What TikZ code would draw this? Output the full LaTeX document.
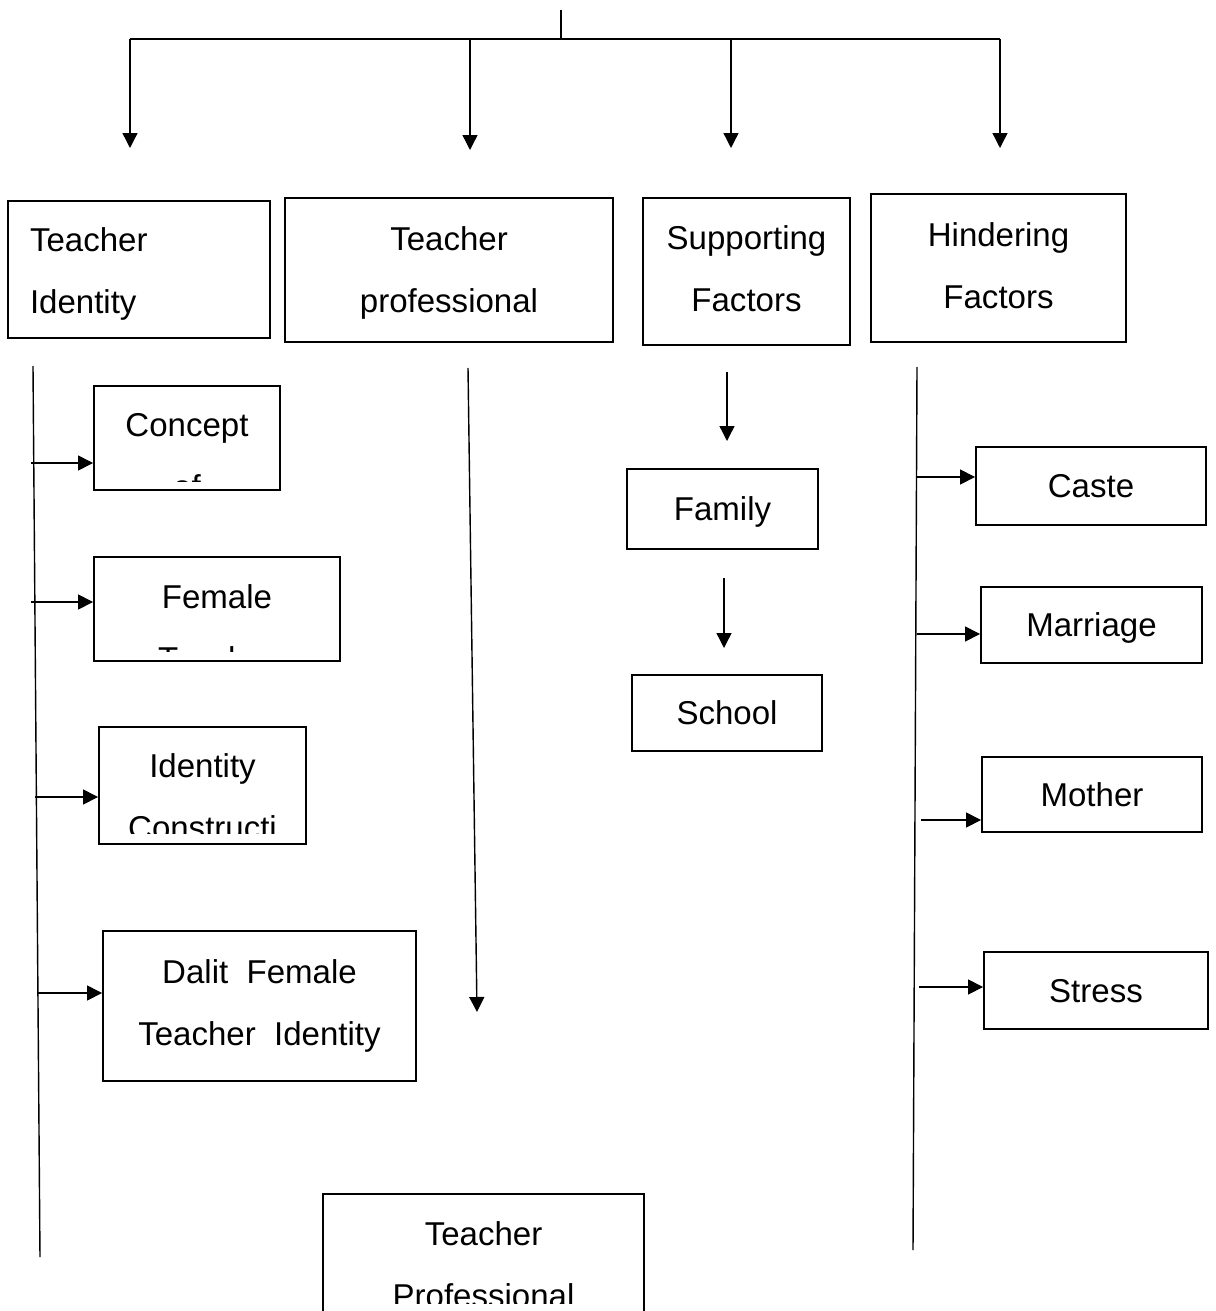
\documentclass[tikz,border=0pt]{standalone}
\usepackage{fontspec}
\setmainfont{Liberation Sans}
\usetikzlibrary{arrows.meta}

\begin{document}
\begin{tikzpicture}[x=0.02cm, y=-0.02cm,
  box/.style={rectangle, draw, line width=1.1pt, inner sep=0pt, align=center, font=\fontsize{18.8}{35.3}\selectfont},
  sbox/.style={box, text depth=0pt},
  lbl/.style={inner sep=0pt, align=center, font=\fontsize{18.8}{35.3}\selectfont},
  arr/.style={-{Triangle[length=0.3cm, width=0.3cm]}, line width=0.8pt},
  ln/.style={line width=0.8pt}
]
\useasboundingbox (0,0) rectangle (1216,1311);
\clip (0,0) rectangle (1216,1311);
% main boxes
\node[box, minimum width=5.24cm, minimum height=2.74cm, text width=4.36cm, inner xsep=0.44cm, align=left, text depth=34.6pt] (tid) at (139,269.5) {Teacher\\Identity};
\node[box, minimum width=6.56cm, minimum height=2.88cm, text depth=0pt] (tpr) at (449,270) {Teacher\\professional};
\node[box, minimum width=4.14cm, minimum height=2.94cm, text depth=3.4pt] (spf) at (746.5,271.5) {Supporting\\Factors};
\node[box, minimum width=5.10cm, minimum height=2.96cm, text depth=2.3pt] (hnd) at (998.5,268) {Hindering\\Factors};
% top branching
\coordinate (top) at (561,10);
\coordinate (bar) at (561,39);
\coordinate (d1) at (130,148);
\coordinate (d2) at (470,150);
\coordinate (d3) at (731,148);
\coordinate (d4) at (1000,148);
\draw[ln] (top) -- (bar);
\draw[ln] (d1 |- bar) -- (d4 |- bar);
\draw[arr] (d1 |- bar) -- (d1);
\draw[arr] (d2 |- bar) -- (d2);
\draw[arr] (d3 |- bar) -- (d3);
\draw[arr] (d4 |- bar) -- (d4);
% teacher identity column
\node[box, minimum width=3.72cm, minimum height=2.08cm] (cof) at (187,438) {};
\begin{scope}
  \clip (cof.north west) rectangle ([yshift=0.18cm]cof.south east);
  \node[lbl] (cofT) at (187,456) {Concept\\of};
\end{scope}
\node[box, minimum width=4.92cm, minimum height=2.08cm] (fem) at (217,609) {};
\begin{scope}
  \clip (fem.north west) rectangle ([yshift=0.2cm]fem.south east);
  \node[lbl] (femT) at (217,628) {Female\\Teacher};
\end{scope}
\node[box, minimum width=4.14cm, minimum height=2.34cm] (idc) at (202.5,785.5) {};
\begin{scope}
  \clip (idc.north west) rectangle ([yshift=0.22cm]idc.south east);
  \node[lbl] (idcT) at (202.5,797) {Identity\\Constructi};
\end{scope}
\node[box, minimum width=6.26cm, minimum height=3.00cm] (dfi) at (259.5,1006) {Dalit\ \ Female\\Teacher\ \ Identity};
\coordinate (lt1) at (33,366);
\coordinate (lt2) at (40,1257);
\draw[ln] (lt1) -- (lt2);
\coordinate (b1) at (31,463);
\coordinate (b2) at (31,602);
\coordinate (b3) at (35,797);
\coordinate (b4) at (38,993);
\draw[arr] (b1) -- (b1 -| cof.west);
\draw[arr] (b2) -- (b2 -| fem.west);
\draw[arr] (b3) -- (b3 -| idc.west);
\draw[arr] (b4) -- (b4 -| dfi.west);
% teacher professional column
\coordinate (mt1) at (468,368);
\coordinate (mt2) at (477,1012);
\draw[arr] (mt1) -- (mt2);
\node[box, minimum width=6.42cm, minimum height=3.2cm] (tpf) at (483.5,1274) {};
\begin{scope}
  \clip (tpf.north west) rectangle ([yshift=1.02cm]tpf.south east);
  \node[lbl] (tpfT) at (483.5,1264.5) {Teacher\\Professional};
\end{scope}
% supporting factors
\node[sbox, minimum width=3.82cm, minimum height=1.60cm] (fam) at (722.5,509) {Family};
\node[sbox, minimum width=3.80cm, minimum height=1.52cm] (sch) at (727,713) {School};
\coordinate (s1) at (727,372);
\coordinate (s2) at (727,441);
\coordinate (s3) at (724,578);
\coordinate (s4) at (724,648);
\draw[arr] (s1) -- (s2);
\draw[arr] (s3) -- (s4);
% hindering factors
\node[sbox, minimum width=4.60cm, minimum height=1.56cm] (cas) at (1091,486) {Caste};
\node[sbox, minimum width=4.42cm, minimum height=1.52cm] (mar) at (1091.5,625) {Marriage};
\node[sbox, minimum width=4.40cm, minimum height=1.50cm] (mot) at (1092,794.5) {Mother};
\node[sbox, minimum width=4.48cm, minimum height=1.54cm] (str) at (1096,990.5) {Stress};
\coordinate (rt1) at (917,367);
\coordinate (rt2) at (913,1250);
\draw[ln] (rt1) -- (rt2);
\coordinate (h1) at (917,477);
\coordinate (h2) at (917,634);
\coordinate (h3) at (921,820);
\coordinate (h4) at (919,987);
\draw[arr] (h1) -- (h1 -| cas.west);
\draw[arr] (h2) -- (h2 -| mar.west);
\draw[arr] (h3) -- (h3 -| mot.west);
\draw[arr] (h4) -- (h4 -| str.west);
\end{tikzpicture}
\end{document}
